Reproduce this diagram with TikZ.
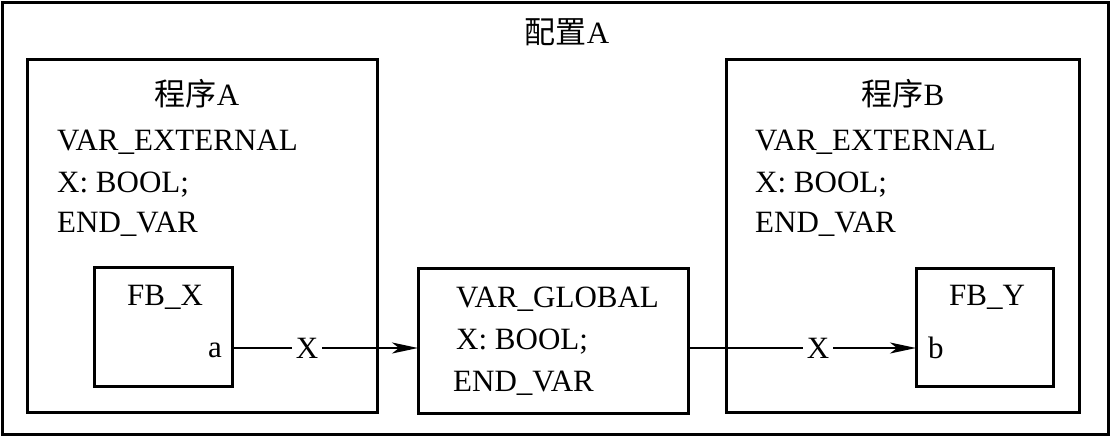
\documentclass[tikz,border=0pt]{standalone}
\usepackage{fontspec}
\setmainfont{Liberation Serif}
\newfontfamily\cjk{Noto Sans CJK SC}
\usetikzlibrary{arrows.meta}
\begin{document}
\begin{tikzpicture}[x=1pt,y=-1pt,
  frame/.style={draw, line width=3pt, inner sep=0pt},
  txt/.style={inner sep=0pt, font=\fontsize{31}{37}\selectfont},
  conn/.style={line width=2pt, -{Stealth[length=26pt,width=11pt,inset=7pt]}},
  lbl/.style={fill=white, inner sep=0pt, minimum width=30pt, minimum height=30pt, font=\fontsize{31}{37}\selectfont}]
\useasboundingbox (0,0) rectangle (1111,437);
% outer frame
\node[frame, minimum width=1106pt, minimum height=432pt] (outer) at (555,218.5) {};
\node[txt, anchor=base] (title) at (567,43) {{\cjk 配置}A};
% left program box
\node[frame, minimum width=350pt, minimum height=353pt] (pa) at (202,235.5) {};
\node[txt, anchor=base] (pat) at (197,105) {{\cjk 程序}A};
\node[txt, anchor=base west] (pa1) at (57,150) {VAR\_EXTERNAL};
\node[txt, anchor=base west] (pa2) at (57,192) {X: BOOL;};
\node[txt, anchor=base west] (pa3) at (57,232) {END\_VAR};
\node[frame, minimum width=138pt, minimum height=119pt] (fbx) at (163,327) {};
\node[txt, anchor=base] (fbxt) at (165,305) {FB\_X};
\node[txt, anchor=base east] (pa) at (222,357) {a};
% middle box
\node[frame, minimum width=270pt, minimum height=145pt] (glob) at (553,340.5) {};
\node[txt, anchor=base west] (g1) at (456,307) {VAR\_GLOBAL};
\node[txt, anchor=base west] (g2) at (456,349) {X: BOOL;};
\node[txt, anchor=base west] (g3) at (453,391) {END\_VAR};
% right program box
\node[frame, minimum width=353pt, minimum height=353pt] (pb) at (902.5,235.5) {};
\node[txt, anchor=base] (pbt) at (903,105) {{\cjk 程序}B};
\node[txt, anchor=base west] (pb1) at (755,150) {VAR\_EXTERNAL};
\node[txt, anchor=base west] (pb2) at (755,192) {X: BOOL;};
\node[txt, anchor=base west] (pb3) at (755,232) {END\_VAR};
\node[frame, minimum width=137pt, minimum height=118pt] (fby) at (984.5,327) {};
\node[txt, anchor=base] (fbyt) at (987,305) {FB\_Y};
\node[txt, anchor=base west] (pbb) at (928,358) {b};
% connectors
\coordinate (a1) at (232,348);
\coordinate (a2) at (418,348);
\coordinate (b1) at (688,348);
\coordinate (b2) at (916,348);
\draw[conn] (a1) -- (a2);
\draw[conn] (b1) -- (b2);
\node[lbl] (x1) at (307,348) {X};
\node[lbl] (x2) at (818,348) {X};
\end{tikzpicture}
\end{document}
